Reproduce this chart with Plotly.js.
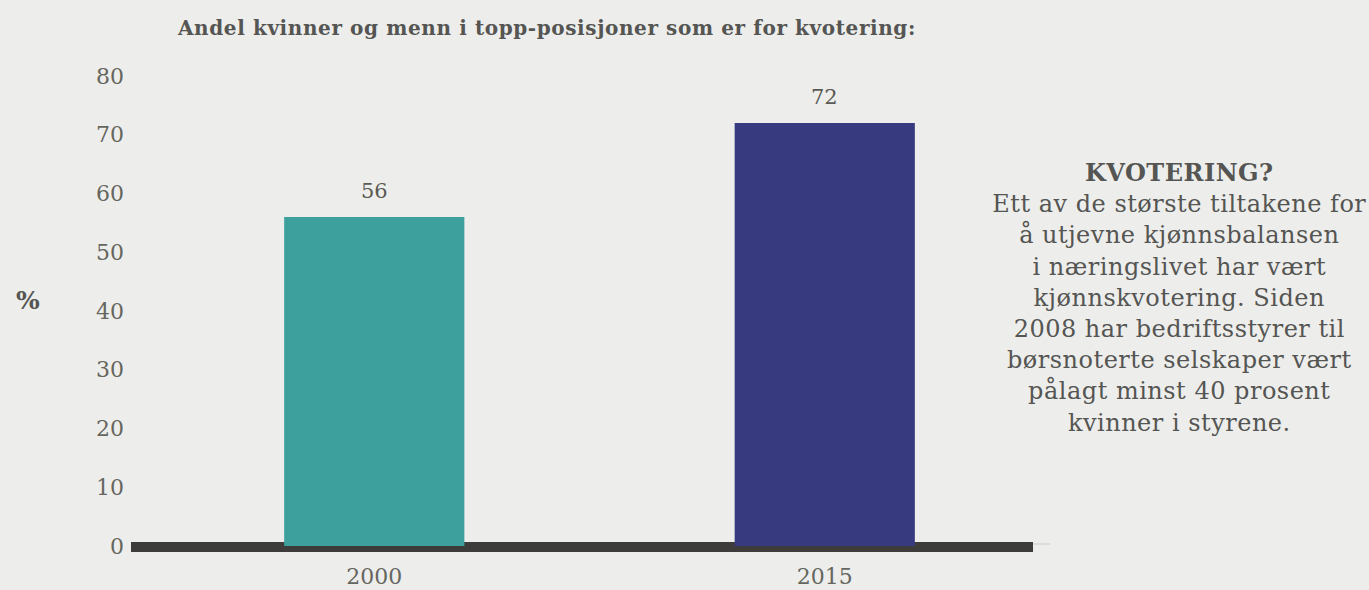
<!DOCTYPE html>
<html><head><meta charset="utf-8">
<script src="https://cdn.plot.ly/plotly-3.0.1.min.js"></script>
<style>
html,body{margin:0;padding:0;background:#edeeeb;}
#chart .gtitle{letter-spacing:0.6px;}
#chart .side-note .annotation-text{letter-spacing:0.5px;}
</style>
</head><body>
<div id="chart" style="width:1369px;height:590px;"></div>
<script>
const categories = ["2000", "2015"];
const values = [56, 72];
const barColors = ["#3da09c", "#373a7f"];
const yTicks = [0, 10, 20, 30, 40, 50, 60, 70, 80];
const titleText = "Andel kvinner og menn i topp-posisjoner som er for kvotering:";
const sideTitle = "KVOTERING?";
const sideLines = ["Ett av de største tiltakene for", "å utjevne kjønnsbalansen", "i næringslivet har vært", "kjønnskvotering. Siden", "2008 har bedriftsstyrer til", "børsnoterte selskaper vært", "pålagt minst 40 prosent", "kvinner i styrene."];

const FONT = "DejaVu Serif, serif";

const trace = {
  type: "bar",
  x: categories,
  y: values,
  marker: {color: barColors},
  hoverinfo: "none"
};

const valueLabels = categories.map((c, i) => ({
  x: i, y: values[i], xref: "x", yref: "y",
  text: String(values[i]), showarrow: false,
  xanchor: "center", yanchor: "bottom", yshift: 12,
  font: {family: FONT, size: 21, color: "#5a5a55"}
}));

const layout = {
  width: 1369, height: 590,
  paper_bgcolor: "#edeeeb",
  plot_bgcolor: "#edeeeb",
  margin: {l: 131, r: 319, t: 76, b: 44},
  bargap: 0.6,
  showlegend: false,
  font: {family: FONT, color: "#666660"},
  title: {
    text: "<b>" + titleText + "</b>",
    font: {family: FONT, size: 20, color: "#555553"},
    x: 178/1369, xanchor: "left", xref: "container",
    y: 1 - 28/590, yanchor: "middle", yref: "container"
  },
  xaxis: {
    type: "category",
    range: [-0.54, 1.5],
    showgrid: false, zeroline: false, showline: false,
    ticks: "", ticklabelstandoff: 15,
    tickfont: {family: FONT, size: 22, color: "#666660"},
    fixedrange: true
  },
  yaxis: {
    range: [0, 80],
    tickvals: yTicks,
    ticktext: yTicks.map(String),
    showgrid: false, zeroline: false, showline: false,
    ticks: "", ticklabelstandoff: 6,
    tickfont: {family: FONT, size: 22, color: "#666660"},
    fixedrange: true
  },
  shapes: [
    {
      type: "line", xref: "paper", yref: "paper",
      x0: 0, x1: 1, y0: 2/470, y1: 2/470,
      line: {color: "#d6d6d3", width: 1.5},
      layer: "below"
    },
    {
      type: "line", xref: "paper", yref: "paper",
      x0: 0, x1: (1033-131)/919, y0: -1/470, y1: -1/470,
      line: {color: "#3d3c3a", width: 10},
      layer: "below"
    }
  ],
  annotations: [
    {
      text: "<b>%</b>", xref: "paper", yref: "paper",
      x: -103/919, y: (546-300)/470, xanchor: "center", yanchor: "middle",
      showarrow: false, font: {family: FONT, size: 25, color: "#555553"}
    },
    {
      text: "<b>" + sideTitle + "</b><br>" + sideLines.join("<br>"),
      xref: "paper", yref: "paper",
      x: (1179-131)/919, y: (546-156)/470, xanchor: "center", yanchor: "top",
      align: "center", showarrow: false,
      font: {family: FONT, size: 24, color: "#555553"}
    }
  ].concat(valueLabels)
};

Plotly.newPlot("chart", [trace], layout, {displayModeBar: false, staticPlot: true}).then(() => {
  const anns = document.querySelectorAll("#chart .annotation");
  anns.forEach(a => {
    const t = a.querySelector(".annotation-text");
    if (t && t.textContent.indexOf("KVOTERING") === 0) a.classList.add("side-note");
  });
});
</script>
</body></html>
